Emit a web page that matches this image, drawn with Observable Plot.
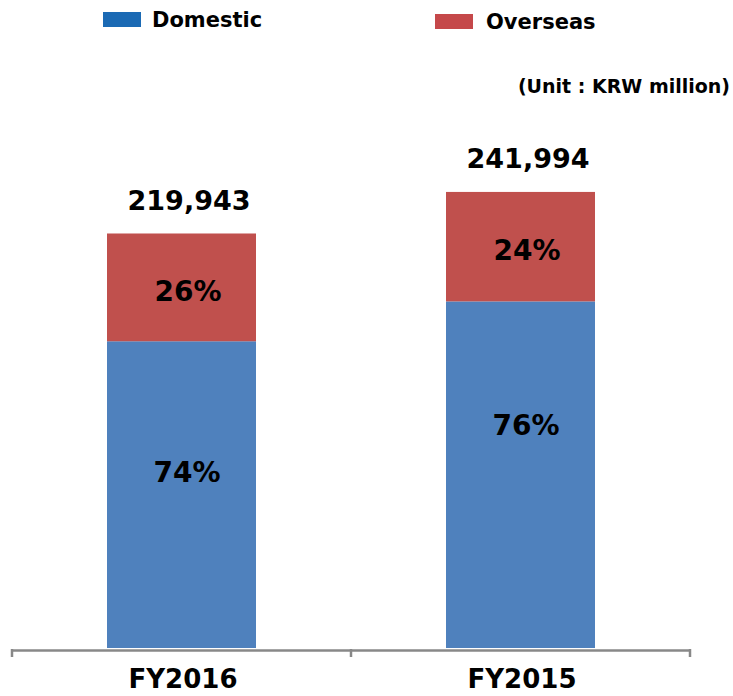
<!DOCTYPE html>
<html>
<head>
<meta charset="utf-8">
<script src="https://cdn.jsdelivr.net/npm/d3@7"></script>
<script src="https://cdn.jsdelivr.net/npm/@observablehq/plot@0.6"></script>
<style>
  html, body { margin: 0; padding: 0; background: #fff; }
  body { font-family: "DejaVu Sans", sans-serif; font-weight: bold; color: #000; }
  #wrap { position: relative; width: 733px; height: 696px; overflow: hidden; }
  .sw { position: absolute; height: 15px; width: 38px; }
  .lt { position: absolute; font-size: 21px; line-height: 20px; white-space: nowrap; }
  #unit { position: absolute; right: 3px; top: 77px; font-size: 19px; line-height: 18px; white-space: nowrap; }
  #chart { position: absolute; left: 0; top: 100px; }
</style>
</head>
<body>
<div id="wrap">
  <div class="sw" style="left:103px; top:12px; background:#1B6AB4"></div>
  <div class="lt" style="left:152px; top:10px">Domestic</div>
  <div class="sw" style="left:435px; top:14px; background:#C5484A"></div>
  <div class="lt" style="left:486px; top:12px">Overseas</div>
  <div id="unit">(Unit : KRW million)</div>
  <div id="chart"></div>
</div>
<script>
const categories = ["FY2016", "FY2015"];
const totals = [219943, 241994];
const domesticShare = [74, 76];
const overseasShare = [26, 24];
const seriesNames = ["Domestic", "Overseas"];
const seriesColors = ["#4F81BD", "#C0504D"];

const rows = [];
categories.forEach((c, i) => {
  const dom = totals[i] * domesticShare[i] / 100;
  rows.push({cat: c, series: "Domestic", y1: 0, y2: dom, label: domesticShare[i] + "%"});
  rows.push({cat: c, series: "Overseas", y1: dom, y2: totals[i], label: overseasShare[i] + "%"});
});
const totalRows = categories.map((c, i) => ({cat: c, total: totals[i]}));
const fmt = d3.format(",");

const W = 733, H = 596;
const font = "DejaVu Sans";

const boundaryTicks = (index, scales, values, dimensions) => {
  const x = scales.x;
  const bw = typeof x.bandwidth === "function" ? x.bandwidth() : (x.bandwidth || 0);
  const centers = categories.map(c => x(c) + bw / 2);
  const xs = [dimensions.marginLeft, (centers[0] + centers[1]) / 2, dimensions.width - dimensions.marginRight];
  const y0 = scales.y(0) + 1;
  const g = d3.create("svg:g");
  xs.forEach(v => {
    g.append("line").attr("x1", v).attr("x2", v).attr("y1", y0).attr("y2", y0 + 8)
      .attr("stroke", "#888888").attr("stroke-width", 2.5);
  });
  return g.node();
};

const chart = Plot.plot({
  width: W,
  height: H,
  marginLeft: 12,
  marginRight: 43,
  marginTop: 58,
  marginBottom: 48,
  style: {fontFamily: font, fontWeight: "bold", color: "#000", background: "transparent"},
  x: {domain: categories, paddingInner: 0.56, paddingOuter: 0.28, axis: null, label: null},
  y: {domain: [0, 260000], axis: null},
  color: {domain: seriesNames, range: seriesColors},
  marks: [
    Plot.barY(rows, {x: "cat", y1: "y1", y2: "y2", fill: "series", inset: 0}),
    Plot.ruleY([0], {stroke: "#888888", strokeWidth: 2.5, dy: 2}),
    boundaryTicks,
    Plot.axisX({tickSize: 0, tickPadding: 21, fontSize: 26, fontWeight: "bold", fill: "#000", dx: 1, label: null}),
    Plot.text(totalRows, {x: "cat", y: "total", text: d => fmt(d.total), fontSize: 27, fontWeight: "bold", fill: "#000", dx: 7, dy: -33}),
    Plot.text(rows.filter(d => d.series === "Overseas"), {x: "cat", y: d => (d.y1 + d.y2) / 2, text: "label", fontSize: 28, fontWeight: "bold", fill: "#000", dx: 6, dy: 4}),
    Plot.text(rows.filter(d => d.series === "Domestic" && d.cat === "FY2016"), {x: "cat", y: d => (d.y1 + d.y2) / 2, text: "label", fontSize: 28, fontWeight: "bold", fill: "#000", dx: 5, dy: -22}),
    Plot.text(rows.filter(d => d.series === "Domestic" && d.cat === "FY2015"), {x: "cat", y: d => (d.y1 + d.y2) / 2, text: "label", fontSize: 28, fontWeight: "bold", fill: "#000", dx: 5, dy: -49})
  ]
});
document.getElementById("chart").appendChild(chart);
</script>
</body>
</html>
